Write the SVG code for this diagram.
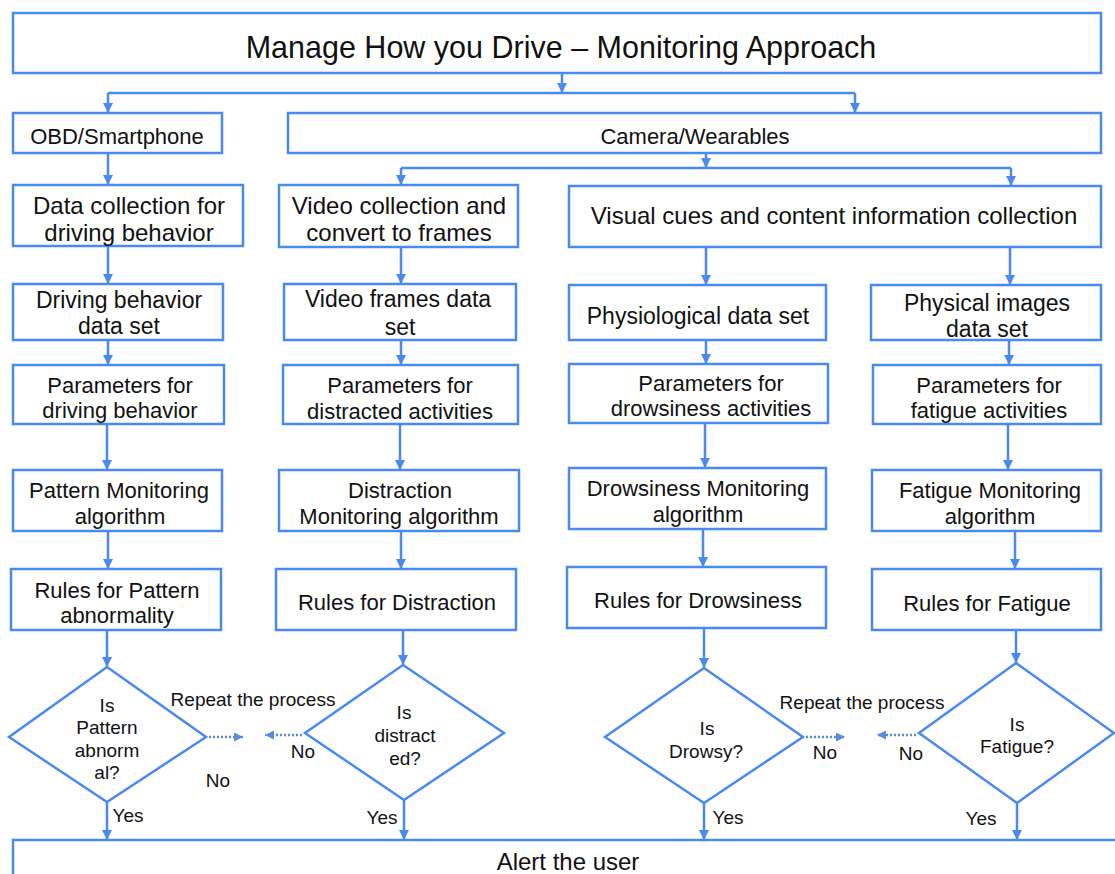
<svg xmlns="http://www.w3.org/2000/svg" width="1115" height="874" viewBox="0 0 1115 874">
<defs>
<style>
.box{fill:#fff;stroke:#4a8af0;stroke-width:2.5}
.t{font-family:"Liberation Sans",Arial,sans-serif;font-size:22px;fill:#111;text-anchor:middle;dominant-baseline:central}
.r2{font-size:24px}
.r3{font-size:23px}
.s{font-size:19px}
.title{font-size:30.5px}
.alert{font-size:24px}
.c{fill:none;stroke:#4a8af0;stroke-width:2.5}
.d{fill:none;stroke:#5b8ad6;stroke-width:2.5;stroke-dasharray:2 2}
</style>
<marker id="ah" viewBox="0 0 10 10" refX="10" refY="5" markerWidth="10" markerHeight="10" markerUnits="userSpaceOnUse" orient="auto">
<path d="M0,0 L10,5 L0,10 z" fill="#4a8af0"/>
</marker>
<marker id="ahd" viewBox="0 0 10 10" refX="10" refY="5" markerWidth="9" markerHeight="9" markerUnits="userSpaceOnUse" orient="auto">
<path d="M0,0 L10,5 L0,10 z" fill="#5b8ad6"/>
</marker>
</defs>

<g id="connectors">
<path class="c" d="M562,73 V93" marker-end="url(#ah)"/>
<path class="c" d="M108,93 H855"/>
<path class="c" d="M108,93 V113" marker-end="url(#ah)"/>
<path class="c" d="M855,93 V113" marker-end="url(#ah)"/>
<path class="c" d="M108,153 V185" marker-end="url(#ah)"/>
<path class="c" d="M706,153 V168" marker-end="url(#ah)"/>
<path class="c" d="M401,168 H1011"/>
<path class="c" d="M401,168 V185" marker-end="url(#ah)"/>
<path class="c" d="M1011,168 V186" marker-end="url(#ah)"/>

<path class="c" d="M108,246 V284" marker-end="url(#ah)"/>
<path class="c" d="M108,340 V365" marker-end="url(#ah)"/>
<path class="c" d="M107,424 V470" marker-end="url(#ah)"/>
<path class="c" d="M108,531 V569" marker-end="url(#ah)"/>
<path class="c" d="M107,630 V667" marker-end="url(#ah)"/>
<path class="c" d="M107,802 V840" marker-end="url(#ah)"/>

<path class="c" d="M401,247 V284" marker-end="url(#ah)"/>
<path class="c" d="M401,340 V365" marker-end="url(#ah)"/>
<path class="c" d="M400,424 V470" marker-end="url(#ah)"/>
<path class="c" d="M401,531 V569" marker-end="url(#ah)"/>
<path class="c" d="M403,630 V665" marker-end="url(#ah)"/>
<path class="c" d="M404,800 V840" marker-end="url(#ah)"/>

<path class="c" d="M706,247 V285" marker-end="url(#ah)"/>
<path class="c" d="M706,340 V364" marker-end="url(#ah)"/>
<path class="c" d="M705,423 V468" marker-end="url(#ah)"/>
<path class="c" d="M703,529 V567" marker-end="url(#ah)"/>
<path class="c" d="M704,628 V668" marker-end="url(#ah)"/>
<path class="c" d="M704,803 V840" marker-end="url(#ah)"/>

<path class="c" d="M1010,247 V285" marker-end="url(#ah)"/>
<path class="c" d="M1009,340 V365" marker-end="url(#ah)"/>
<path class="c" d="M1008,424 V470" marker-end="url(#ah)"/>
<path class="c" d="M1015,531 V569" marker-end="url(#ah)"/>
<path class="c" d="M1016,630 V663" marker-end="url(#ah)"/>
<path class="c" d="M1017,803 V840" marker-end="url(#ah)"/>

<path class="d" d="M209,737 H243" marker-end="url(#ahd)"/>
<path class="d" d="M302,735 H265" marker-end="url(#ahd)"/>
<path class="d" d="M806,737 H845" marker-end="url(#ahd)"/>
<path class="d" d="M916,735 H877" marker-end="url(#ahd)"/>

<text class="t s" x="253" y="699">Repeat the process</text>
<text class="t s" x="303" y="751">No</text>
<text class="t s" x="218" y="780">No</text>
<text class="t s" x="862" y="702">Repeat the process</text>
<text class="t s" x="825" y="752">No</text>
<text class="t s" x="911" y="753">No</text>
<text class="t s" x="128" y="815">Yes</text>
<text class="t s" x="382" y="817">Yes</text>
<text class="t s" x="728" y="817">Yes</text>
<text class="t s" x="981" y="818">Yes</text>
</g>

<g id="title"><rect class="box" x="13" y="13" width="1088" height="60"/><text class="t title" x="561" y="47">Manage How you Drive – Monitoring Approach</text></g>
<g id="obd"><rect class="box" x="13" y="113" width="209" height="40"/><text class="t" x="117" y="136">OBD/Smartphone</text></g>
<g id="camera"><rect class="box" x="288" y="113" width="813" height="40"/><text class="t" x="695" y="136">Camera/Wearables</text></g>

<g id="data-collection"><rect class="box" x="13" y="185" width="230" height="61"/><text class="t r2" x="129" y="205">Data collection for</text><text class="t r2" x="129" y="232">driving behavior</text></g>
<g id="video-collection"><rect class="box" x="279" y="185" width="239" height="62"/><text class="t r2" x="399" y="205">Video collection and</text><text class="t r2" x="399" y="232">convert to frames</text></g>
<g id="visual-cues"><rect class="box" x="569" y="186" width="532" height="61"/><text class="t r2" x="834" y="215">Visual cues and content information collection</text></g>

<g id="driving-dataset"><rect class="box" x="13" y="284" width="210" height="56"/><text class="t r3" x="119" y="300">Driving behavior</text><text class="t r3" x="119" y="326">data set</text></g>
<g id="video-dataset"><rect class="box" x="284" y="284" width="232" height="56"/><text class="t r3" x="398" y="299">Video frames data</text><text class="t r3" x="400" y="327">set</text></g>
<g id="physio-dataset"><rect class="box" x="569" y="285" width="257" height="55"/><text class="t r3" x="698" y="316">Physiological data set</text></g>
<g id="physical-dataset"><rect class="box" x="871" y="285" width="230" height="55"/><text class="t r3" x="987" y="303">Physical images</text><text class="t r3" x="987" y="329">data set</text></g>

<g id="params-driving"><rect class="box" x="13" y="365" width="211" height="59"/><text class="t" x="120" y="385">Parameters for</text><text class="t" x="120" y="410">driving behavior</text></g>
<g id="params-distracted"><rect class="box" x="283" y="365" width="235" height="59"/><text class="t" x="400" y="385">Parameters for</text><text class="t" x="400" y="411">distracted activities</text></g>
<g id="params-drowsiness"><rect class="box" x="569" y="364" width="259" height="59"/><text class="t" x="711" y="383">Parameters for</text><text class="t" x="711" y="408">drowsiness activities</text></g>
<g id="params-fatigue"><rect class="box" x="873" y="365" width="228" height="59"/><text class="t" x="989" y="385">Parameters for</text><text class="t" x="989" y="410">fatigue activities</text></g>

<g id="pattern-algo"><rect class="box" x="13" y="470" width="209" height="61"/><text class="t" x="119" y="490">Pattern Monitoring</text><text class="t" x="120" y="516">algorithm</text></g>
<g id="distraction-algo"><rect class="box" x="279" y="470" width="240" height="61"/><text class="t" x="400" y="490">Distraction</text><text class="t" x="399" y="516">Monitoring algorithm</text></g>
<g id="drowsiness-algo"><rect class="box" x="569" y="468" width="257" height="61"/><text class="t" x="698" y="488">Drowsiness Monitoring</text><text class="t" x="698" y="514">algorithm</text></g>
<g id="fatigue-algo"><rect class="box" x="872" y="470" width="229" height="61"/><text class="t" x="990" y="490">Fatigue Monitoring</text><text class="t" x="990" y="516">algorithm</text></g>

<g id="rules-pattern"><rect class="box" x="11" y="569" width="210" height="61"/><text class="t" x="117" y="590">Rules for Pattern</text><text class="t" x="117" y="615">abnormality</text></g>
<g id="rules-distraction"><rect class="box" x="276" y="569" width="240" height="61"/><text class="t" x="397" y="602">Rules for Distraction</text></g>
<g id="rules-drowsiness"><rect class="box" x="567" y="567" width="259" height="61"/><text class="t" x="698" y="600">Rules for Drowsiness</text></g>
<g id="rules-fatigue"><rect class="box" x="872" y="569" width="229" height="61"/><text class="t" x="987" y="603">Rules for Fatigue</text></g>

<g id="is-pattern"><polygon class="box" points="107,667 206,737 107,802 9,737"/><text class="t s" x="107" y="705">Is</text><text class="t s" x="107" y="727">Pattern</text><text class="t s" x="107" y="750">abnorm</text><text class="t s" x="107" y="772">al?</text></g>
<g id="is-distracted"><polygon class="box" points="403,665 504,733 404,800 305,733"/><text class="t s" x="404" y="712">Is</text><text class="t s" x="405" y="735">distract</text><text class="t s" x="405" y="758">ed?</text></g>
<g id="is-drowsy"><polygon class="box" points="704,668 803,737 704,803 605,737"/><text class="t s" x="707" y="728">Is</text><text class="t s" x="706" y="751">Drowsy?</text></g>
<g id="is-fatigue"><polygon class="box" points="1016,663 1114,733 1017,803 919,733"/><text class="t s" x="1017" y="724">Is</text><text class="t s" x="1017" y="746">Fatigue?</text></g>

<g id="alert"><rect class="box" x="13" y="840" width="1120" height="60"/><text class="t alert" x="568" y="861">Alert the user</text></g>
</svg>
